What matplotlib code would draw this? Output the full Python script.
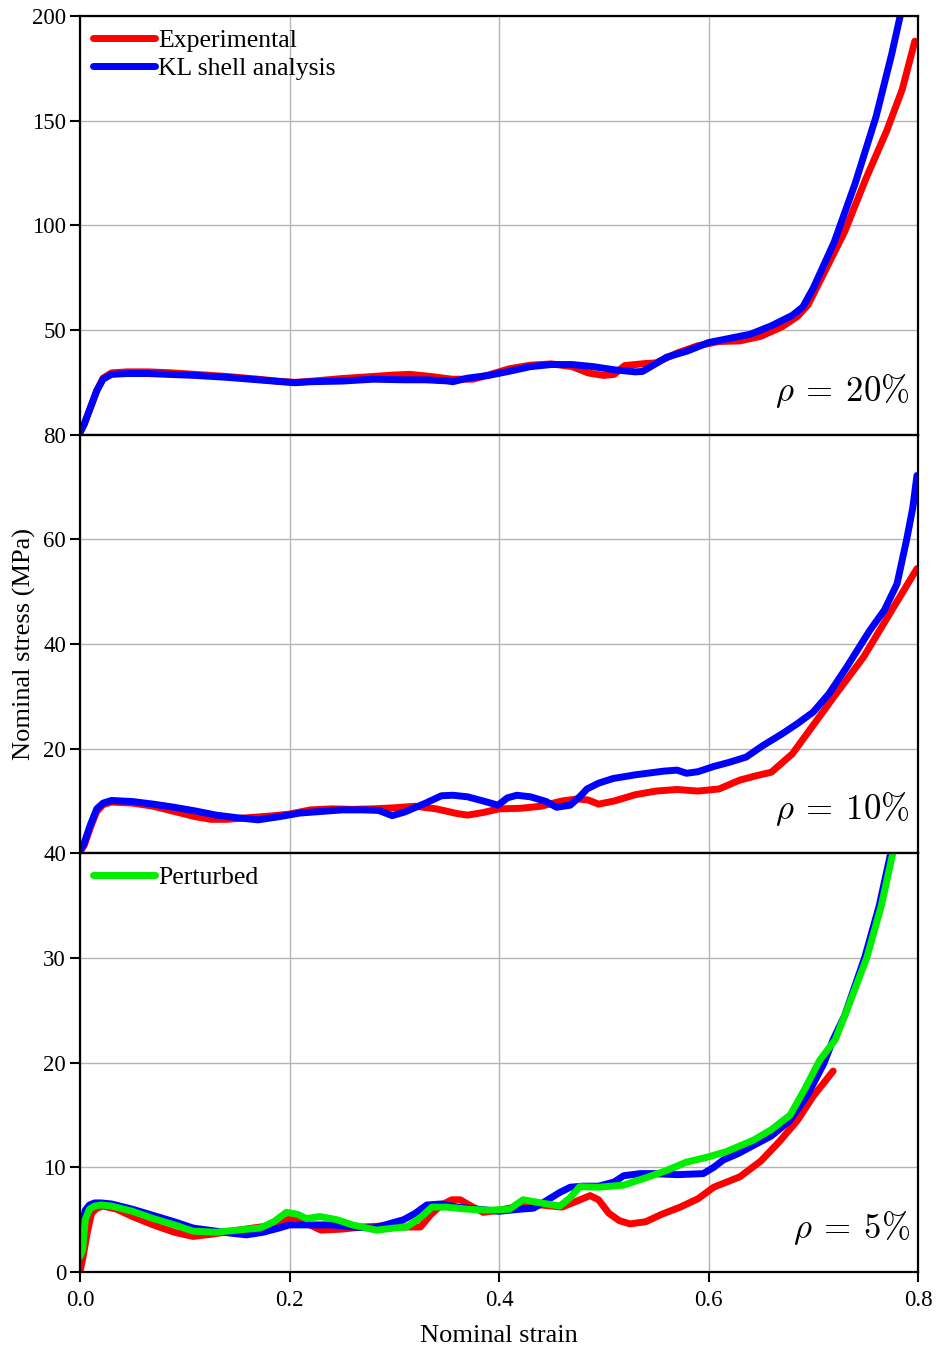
import matplotlib
matplotlib.use("Agg")
import matplotlib.pyplot as plt

plt.rcParams['font.family'] = ['Liberation Serif', 'DejaVu Serif']
plt.rcParams['mathtext.fontset'] = 'cm'

# ---------------- rho = 20% ----------------
strain_20_exp = [0.0, 0.004, 0.010, 0.016, 0.022, 0.030, 0.045, 0.065, 0.085, 0.11, 0.14, 0.17,
                 0.19, 0.205, 0.22, 0.25, 0.28, 0.30, 0.315, 0.335, 0.355, 0.375, 0.39, 0.41,
                 0.43, 0.45, 0.47, 0.485, 0.50, 0.51, 0.52, 0.54, 0.55, 0.57, 0.59, 0.61, 0.63,
                 0.65, 0.67, 0.685, 0.695, 0.71, 0.73, 0.75, 0.77, 0.785, 0.797]
stress_20_exp = [1, 5, 13, 21, 27, 29.5, 30, 30, 29.6, 28.8, 27.8, 26.5,
                 25.5, 25, 25.5, 26.8, 27.8, 28.5, 28.8, 27.8, 26.5, 26.5, 28.5, 31.5,
                 33.2, 33.8, 32.5, 29.5, 28.3, 28.8, 33, 34, 34.3, 39, 42.5, 44.5, 44.8,
                 47, 51.5, 56.5, 62, 77, 97, 122, 145, 165, 188]

strain_20_kl = [0.0, 0.004, 0.010, 0.016, 0.022, 0.030, 0.045, 0.065, 0.085, 0.11, 0.14, 0.17,
                0.19, 0.205, 0.22, 0.25, 0.28, 0.31, 0.33, 0.35, 0.356, 0.37, 0.39, 0.41,
                0.43, 0.45, 0.47, 0.49, 0.51, 0.53, 0.537, 0.55, 0.56, 0.58, 0.60, 0.62, 0.64,
                0.66, 0.68, 0.69, 0.70, 0.72, 0.74, 0.76, 0.775, 0.787]
stress_20_kl = [1, 5, 13, 21, 26.5, 28.8, 29.2, 29.2, 28.8, 28.3, 27.4, 26.2,
                25.4, 24.8, 25.3, 25.6, 26.5, 26.2, 26.2, 25.7, 25.3, 27, 28.3, 30.3,
                32.5, 33.5, 33.5, 32.5, 31, 30, 30.2, 34, 37, 40, 44, 46, 48,
                52, 57, 61, 70, 92, 120, 152, 182, 209]

# ---------------- rho = 10% ----------------
strain_10_exp = [0.0, 0.004, 0.010, 0.016, 0.022, 0.03, 0.05, 0.07, 0.09, 0.11, 0.125, 0.14,
                 0.16, 0.18, 0.20, 0.22, 0.24, 0.26, 0.28, 0.30, 0.32, 0.34, 0.36, 0.37,
                 0.385, 0.40, 0.42, 0.44, 0.46, 0.475, 0.485, 0.495, 0.51, 0.53, 0.55, 0.57,
                 0.59, 0.61, 0.63, 0.645, 0.66, 0.68, 0.70, 0.72, 0.748, 0.773, 0.799]
stress_10_exp = [0.3, 1.5, 5, 8, 9.3, 9.8, 9.6, 9.0, 8.0, 7.0, 6.5, 6.5,
                 6.8, 7.1, 7.5, 8.3, 8.5, 8.4, 8.5, 8.7, 9.0, 8.5, 7.6, 7.3,
                 7.8, 8.5, 8.6, 9.0, 10.0, 10.4, 10.2, 9.4, 10.0, 11.2, 11.9, 12.2,
                 11.9, 12.3, 14.0, 14.8, 15.5, 19.0, 24.5, 30.0, 37.5, 45.8, 54.4]

strain_10_kl = [0.0, 0.004, 0.010, 0.016, 0.022, 0.03, 0.05, 0.07, 0.09, 0.11, 0.13, 0.15,
                0.17, 0.19, 0.21, 0.23, 0.25, 0.27, 0.285, 0.298, 0.31, 0.33, 0.345, 0.356,
                0.37, 0.385, 0.399, 0.408, 0.417, 0.43, 0.445, 0.455, 0.468, 0.477, 0.484,
                0.495, 0.509, 0.53, 0.557, 0.57, 0.579, 0.59, 0.605, 0.62, 0.636, 0.652,
                0.67, 0.685, 0.70, 0.715, 0.732, 0.754, 0.768, 0.78, 0.789, 0.795, 0.799]
stress_10_kl = [0.5, 2, 5.5, 8.5, 9.6, 10.1, 9.9, 9.4, 8.8, 8.1, 7.3, 6.8,
                6.4, 7.0, 7.7, 8.0, 8.3, 8.3, 8.2, 7.2, 7.9, 9.6, 11.0, 11.1,
                10.8, 10.0, 9.2, 10.6, 11.1, 10.8, 9.9, 8.8, 9.2, 10.8, 12.3,
                13.4, 14.3, 15.0, 15.7, 15.9, 15.3, 15.6, 16.6, 17.4, 18.4, 20.6,
                22.8, 24.8, 27.0, 30.5, 35.6, 42.6, 46.5, 51.5, 59.8, 66, 72.2]

# ---------------- rho = 5% ----------------
strain_5_exp = [0.0, 0.003, 0.007, 0.011, 0.016, 0.022, 0.035, 0.05, 0.07, 0.09, 0.108, 0.125,
                0.145, 0.165, 0.18, 0.195, 0.205, 0.215, 0.23, 0.25, 0.27, 0.29, 0.31, 0.325,
                0.335, 0.345, 0.355, 0.363, 0.375, 0.385, 0.40, 0.42, 0.44, 0.46, 0.475,
                0.487, 0.495, 0.505, 0.515, 0.525, 0.54, 0.555, 0.573, 0.59, 0.605, 0.63,
                0.65, 0.668, 0.685, 0.70, 0.719]
stress_5_exp = [0, 1.5, 3.8, 5.6, 6.1, 6.3, 6.0, 5.3, 4.5, 3.8, 3.4, 3.6,
                3.9, 4.2, 4.4, 4.9, 5.2, 4.7, 4.0, 4.1, 4.3, 4.4, 4.3, 4.3,
                5.5, 6.4, 6.9, 6.9, 6.2, 5.7, 5.9, 6.3, 6.4, 6.2, 6.8,
                7.3, 6.9, 5.6, 4.9, 4.6, 4.8, 5.5, 6.2, 7.0, 8.1, 9.1,
                10.6, 12.5, 14.5, 16.8, 19.2]

strain_5_kl = [0.0, 0.002, 0.005, 0.009, 0.014, 0.02, 0.03, 0.05, 0.07, 0.09, 0.108, 0.13,
               0.145, 0.159, 0.175, 0.19, 0.2, 0.22, 0.24, 0.26, 0.28, 0.295, 0.309, 0.32,
               0.331, 0.345, 0.36, 0.38, 0.40, 0.42, 0.433, 0.445, 0.458, 0.468, 0.48,
               0.495, 0.51, 0.519, 0.535, 0.547, 0.57, 0.595, 0.605, 0.614, 0.628, 0.643,
               0.66, 0.678, 0.695, 0.71, 0.719, 0.73, 0.749, 0.763, 0.775]
stress_5_kl = [2.0, 4.5, 5.9, 6.4, 6.6, 6.6, 6.5, 6.0, 5.4, 4.8, 4.2, 3.9,
               3.7, 3.55, 3.8, 4.2, 4.5, 4.5, 4.5, 4.3, 4.2, 4.6, 5.0, 5.6,
               6.4, 6.5, 6.2, 6.0, 5.8, 6.0, 6.1, 6.8, 7.6, 8.1, 8.2,
               8.2, 8.6, 9.2, 9.4, 9.4, 9.3, 9.4, 10.0, 10.7, 11.3, 12.1,
               13.0, 14.5, 17.0, 19.9, 22.2, 24.5, 30.0, 35.0, 40.5]

strain_5_pert = [0.0, 0.0025, 0.005, 0.009, 0.014, 0.02, 0.03, 0.05, 0.07, 0.09, 0.108, 0.13,
                 0.15, 0.172, 0.185, 0.197, 0.208, 0.216, 0.229, 0.245, 0.26, 0.283, 0.30,
                 0.312, 0.325, 0.336, 0.35, 0.37, 0.39, 0.41, 0.423, 0.44, 0.458, 0.468,
                 0.477, 0.495, 0.519, 0.54, 0.56, 0.579, 0.60, 0.617, 0.643, 0.66, 0.678,
                 0.692, 0.706, 0.721, 0.732, 0.751, 0.765, 0.777]
stress_5_pert = [1.5, 2.1, 5.0, 6.0, 6.3, 6.4, 6.3, 5.8, 5.1, 4.5, 3.9, 3.8,
                 4.0, 4.2, 4.8, 5.7, 5.5, 5.1, 5.3, 5.0, 4.5, 4.0, 4.2,
                 4.3, 5.2, 6.2, 6.2, 6.0, 5.9, 6.0, 6.9, 6.6, 6.3, 7.1,
                 8.15, 8.1, 8.3, 9.0, 9.7, 10.5, 11.0, 11.5, 12.6, 13.6, 15.0,
                 17.5, 20.2, 22.2, 25.0, 30.0, 35.0, 40.5]

panel_labels = [r'$\rho\:=\:20\%$', r'$\rho\:=\:10\%$', r'$\rho\:=\:5\%$']
y_limits = [200, 80, 40]
y_ticks = [[50, 100, 150, 200], [20, 40, 60, 80], [0, 10, 20, 30, 40]]
x_ticks = [0.0, 0.2, 0.4, 0.6, 0.8]
x_tick_labels = ['0.0', '0.2', '0.4', '0.6', '0.8']

RED = '#ff0000'
BLUE = '#0000ff'
GREEN = '#00ee00'
LW = 5.0

fig = plt.figure(figsize=(9.47, 13.51), dpi=100)
left, right = 80 / 947, 918 / 947
top, bottom = 1 - 16 / 1351, 1 - 1272 / 1351
h = (top - bottom) / 3
axes = [fig.add_axes([left, top - (i + 1) * h, right - left, h]) for i in range(3)]

curves = [
    [(strain_20_exp, stress_20_exp, RED, 'Experimental'),
     (strain_20_kl, stress_20_kl, BLUE, 'KL shell analysis')],
    [(strain_10_exp, stress_10_exp, RED, None),
     (strain_10_kl, stress_10_kl, BLUE, None)],
    [(strain_5_exp, stress_5_exp, RED, None),
     (strain_5_kl, stress_5_kl, BLUE, None),
     (strain_5_pert, stress_5_pert, GREEN, 'Perturbed')],
]

for i, ax in enumerate(axes):
    for xs, ys, c, lab in curves[i]:
        ax.plot(xs, ys, color=c, lw=LW, label=lab, solid_capstyle='round',
                solid_joinstyle='round', zorder=3)
    ax.set_xlim(0, 0.8)
    ax.set_ylim(0, y_limits[i])
    ax.set_yticks(y_ticks[i])
    ax.set_xticks(x_ticks)
    ax.grid(True, color='#b4b4b4', lw=1.0, zorder=0)
    ax.tick_params(axis='both', direction='out', length=7, width=1.5,
                   labelsize=16.5, pad=3)
    for s in ax.spines.values():
        s.set_linewidth(1.6)
        s.set_zorder(5)
    ax.text(0.99, 0.06, panel_labels[i], transform=ax.transAxes,
            ha='right', va='bottom', fontsize=25)
    if i < 2:
        ax.tick_params(axis='x', labelbottom=False, length=0)

axes[2].set_xticklabels(x_tick_labels)
axes[2].tick_params(axis='x', pad=6, labelsize=16.5)

leg_kw = dict(loc='upper left', frameon=False, fontsize=18.5, handlelength=2.4,
              handletextpad=0.15, borderaxespad=0.2, labelspacing=0.2,
              borderpad=0.3)
axes[0].legend(**leg_kw)
axes[2].legend(**leg_kw)

fig.text(0.026, (top + bottom) / 2, 'Nominal stress (MPa)', rotation=90,
         ha='center', va='center', fontsize=19)
fig.text((left + right) / 2, 1 - 1336 / 1351, 'Nominal strain',
         ha='center', va='center', fontsize=19)

fig.savefig('out.png', dpi=100)
